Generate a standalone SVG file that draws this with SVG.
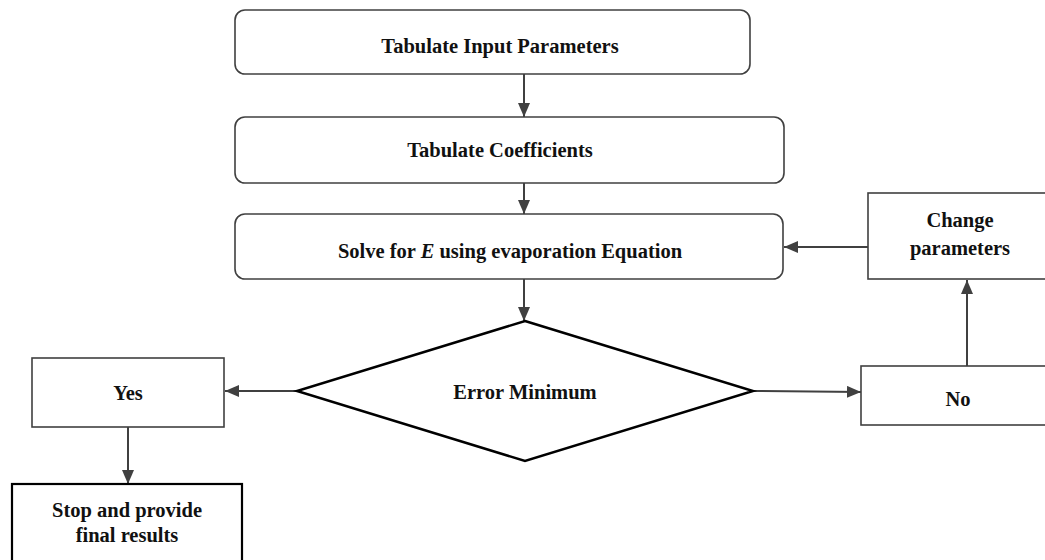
<svg xmlns="http://www.w3.org/2000/svg" width="1045" height="560" viewBox="0 0 1045 560">
<style>
.box{fill:#fff;stroke:#404040;stroke-width:1.6}
.dec{fill:#fff;stroke:#000;stroke-width:2.5}
.stop{fill:#fff;stroke:#000;stroke-width:2.2}
.t{font-family:"Liberation Serif","DejaVu Serif",serif;font-weight:bold;font-size:20.5px;fill:#111;text-anchor:middle}
.c{stroke:#404040;stroke-width:2;fill:none;marker-end:url(#ah)}
</style>
<defs>
<marker id="ah" viewBox="0 0 14 12" refX="14" refY="6" markerWidth="14" markerHeight="12" markerUnits="userSpaceOnUse" orient="auto">
<path d="M0,0 L14,6 L0,12 z" fill="#404040"/>
</marker>
</defs>
<rect width="1045" height="560" fill="#fff"/>
<g id="connectors">
<line class="c" x1="524" y1="74" x2="524" y2="117"/>
<line class="c" x1="524" y1="183" x2="524" y2="214"/>
<line class="c" x1="524" y1="279" x2="524" y2="321"/>
<line class="c" x1="868" y1="247" x2="784" y2="247"/>
<line class="c" x1="967" y1="366" x2="967" y2="280"/>
<line class="c" x1="753" y1="391" x2="861" y2="392"/>
<line class="c" x1="297" y1="391" x2="225" y2="391"/>
<line class="c" x1="128" y1="427" x2="128" y2="484"/>
</g>
<g id="n1"><rect class="box" x="235" y="10" width="515" height="64" rx="10"/><text class="t" x="500" y="53">Tabulate Input Parameters</text></g>
<g id="n2"><rect class="box" x="235" y="117" width="549" height="66" rx="10"/><text class="t" x="500" y="157">Tabulate Coefficients</text></g>
<g id="n3"><rect class="box" x="235" y="214" width="548" height="65" rx="10"/><text class="t" x="510" y="258">Solve for <tspan font-style="italic">E</tspan> using evaporation Equation</text></g>
<g id="n4"><polygon class="dec" points="525,321 753,391 525,461 297,391"/><text class="t" x="525" y="399">Error Minimum</text></g>
<g id="n5"><rect class="box" x="32" y="358" width="192" height="69"/><text class="t" x="128" y="400">Yes</text></g>
<g id="n6"><rect class="box" x="861" y="366" width="190" height="59"/><text class="t" x="958" y="406">No</text></g>
<g id="n7"><rect class="box" x="868" y="193" width="183" height="86"/><text class="t" x="960" y="227">Change</text><text class="t" x="960" y="255">parameters</text></g>
<g id="n8"><rect class="stop" x="12" y="484" width="230" height="90"/><text class="t" x="127" y="517">Stop and provide</text><text class="t" x="127" y="542">final results</text></g>
</svg>
